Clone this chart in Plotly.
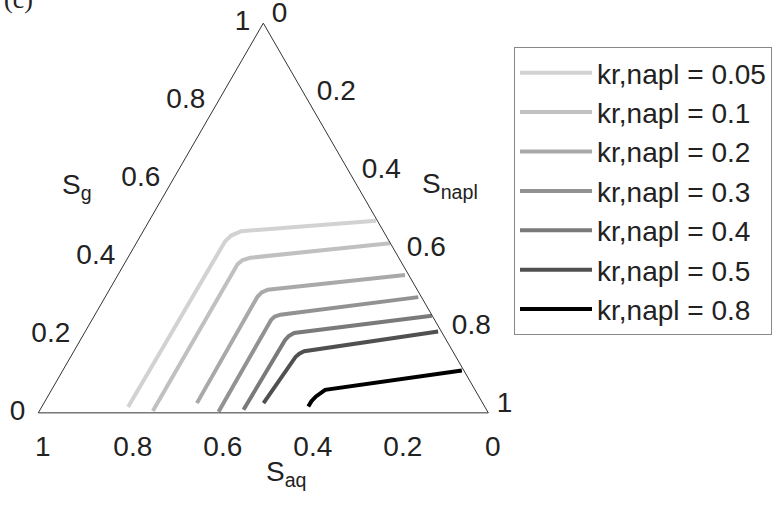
import plotly.graph_objects as go

# Values (S_g, S_napl); S_aq = 1 - S_g - S_napl
names = ["kr,napl = 0.05", "kr,napl = 0.1", "kr,napl = 0.2", "kr,napl = 0.3",
         "kr,napl = 0.4", "kr,napl = 0.5", "kr,napl = 0.8"]
colors = ["#d2d2d2", "#c0c0c0", "#a9a9a9", "#929292", "#7a7a7a", "#505050", "#000000"]

sg_005 = [0.015, 0.440, 0.455, 0.466, 0.493]
sn_005 = [0.192, 0.195, 0.201, 0.218, 0.504]
sg_01 = [0.005, 0.382, 0.392, 0.398, 0.435]
sn_01 = [0.252, 0.252, 0.258, 0.272, 0.564]
sg_02 = [0.025, 0.298, 0.309, 0.316, 0.354]
sn_02 = [0.340, 0.338, 0.342, 0.352, 0.638]
sg_03 = [0.003, 0.239, 0.247, 0.252, 0.297]
sn_03 = [0.399, 0.398, 0.402, 0.412, 0.696]
sg_04 = [0.008, 0.187, 0.197, 0.205, 0.249]
sn_04 = [0.452, 0.455, 0.458, 0.466, 0.750]
sg_05 = [0.025, 0.144, 0.152, 0.158, 0.209]
sn_05 = [0.488, 0.500, 0.504, 0.512, 0.784]
sg_08 = [0.016, 0.030, 0.042, 0.059, 0.1085]
sn_08 = [0.592, 0.592, 0.596, 0.608, 0.887]

sg_all = [sg_005, sg_01, sg_02, sg_03, sg_04, sg_05, sg_08]
sn_all = [sn_005, sn_01, sn_02, sn_03, sn_04, sn_05, sn_08]

tick_vals = [0, 0.2, 0.4, 0.6, 0.8, 1]
tick_text = ["0", "0.2", "0.4", "0.6", "0.8", "1"]

FONT = "Liberation Sans, Arial, sans-serif"
W, H = 784, 505

fig = go.Figure()
for name, col, sg, sn in zip(names, colors, sg_all, sn_all):
    saq = [1 - g - n for g, n in zip(sg, sn)]
    fig.add_trace(go.Scatterternary(
        a=sg, b=saq, c=sn, mode="lines", name=name, legendgroup=name,
        line=dict(color=col, width=4),
    ))

axis_common = dict(
    tickmode="array", tickvals=tick_vals, ticktext=tick_text,
    showgrid=False, linecolor="#333333", linewidth=1,
    ticks="outside", ticklen=9, tickwidth=1, tickcolor="rgba(0,0,0,0)",
    tickfont=dict(size=28, color="#222222", family=FONT),
    title=dict(text=""),
)

fig.update_layout(
    width=W, height=H,
    margin=dict(l=0, r=0, t=0, b=0),
    paper_bgcolor="white",
    font=dict(family=FONT, color="#222222"),
    ternary=dict(
        sum=1,
        bgcolor="white",
        domain=dict(x=[38.3 / W, 488.3 / W], y=[(H - 413) / H, (H - 23) / H]),
        aaxis=axis_common,
        baxis=axis_common,
        caxis=axis_common,
    ),
    showlegend=True,
    legend=dict(
        x=514 / W, y=1 - 47 / H, xanchor="left", yanchor="top",
        bordercolor="#888888", borderwidth=1, bgcolor="white",
        font=dict(size=28, color="#222222", family=FONT),
        traceorder="grouped", tracegroupgap=0, itemwidth=72,
    ),
    annotations=[
        dict(text="S<sub>g</sub>", x=60 / W, y=1 - 186 / H, xref="paper", yref="paper",
             showarrow=False, font=dict(size=28, color="#222222")),
        dict(text="S<sub>napl</sub>", x=450 / W, y=1 - 185 / H, xref="paper", yref="paper",
             showarrow=False, font=dict(size=28, color="#222222")),
        dict(text="S<sub>aq</sub>", x=286 / W, y=1 - 493 / H, xref="paper", yref="paper",
             showarrow=False, font=dict(size=28, color="#222222")),
        dict(text="(c)", x=2 / W, y=1 + 1 / H, xref="paper", yref="paper",
             xanchor="left", yanchor="middle", showarrow=False,
             font=dict(size=26, color="#222222", family="Liberation Serif, serif")),
    ],
)

fig.write_html("out.html")
